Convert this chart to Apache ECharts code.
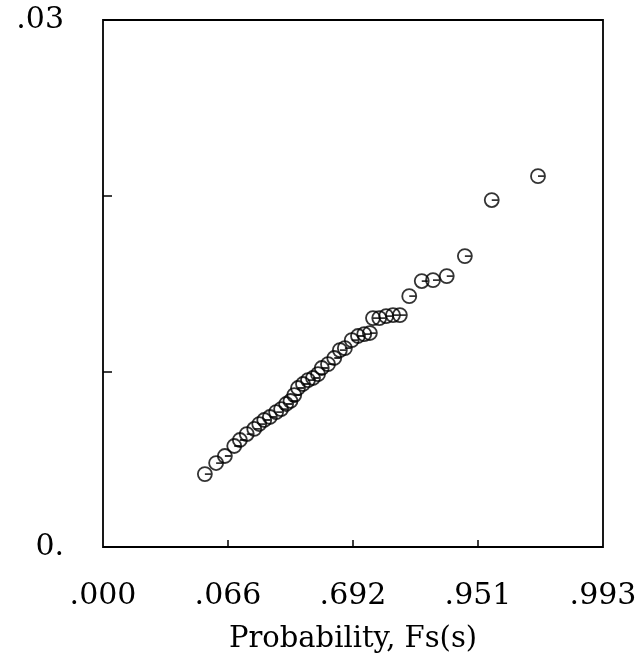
<!DOCTYPE html>
<html>
<head>
<meta charset="utf-8">
<script src="https://cdn.jsdelivr.net/npm/echarts@6/dist/echarts.min.js"></script>
<style>html,body{margin:0;padding:0;background:#fff;}#c{width:639px;height:664px;}</style>
</head>
<body>
<div id="c"></div>
<script>
// Gumbel reduced variate (x) of each plotted point
var reducedVariate = [-1.37,-1.19,-1.05,-0.90,-0.81,-0.70,-0.58,-0.50,-0.42,-0.33,-0.23,-0.15,-0.07,0.00,0.06,0.12,0.20,0.28,0.36,0.44,0.50,0.60,0.70,0.79,0.87,0.98,1.08,1.18,1.27,1.32,1.42,1.53,1.64,1.75,1.90,2.10,2.28,2.50,2.79,3.22,3.96];
// SMRSF value of each point
var smrsf = [0.00415,0.00478,0.00518,0.00575,0.00609,0.00643,0.00672,0.00700,0.00723,0.00740,0.00768,0.00785,0.00814,0.00831,0.00865,0.00905,0.00928,0.00950,0.00962,0.00984,0.01019,0.01041,0.01076,0.01121,0.01132,0.01178,0.01201,0.01212,0.01218,0.01303,0.01303,0.01314,0.01320,0.01320,0.01428,0.01514,0.01519,0.01542,0.01656,0.01975,0.02111];
// x tick positions (reduced variate) and their probability labels
var xTickValues = [-3, -1, 1, 3, 5];
var xTickLabels = ['.000', '.066', '.692', '.951', '.993'];
// y tick values and labels
var yTickValues = [0, 0.01, 0.02, 0.03];
var yTickLabels = ['0.', '', '', '.03'];

var points = reducedVariate.map(function (x, i) { return [x, smrsf[i]]; });

function lookup(vals, labels, v) {
  for (var i = 0; i < vals.length; i++) {
    if (Math.abs(vals[i] - v) < 1e-9) return labels[i];
  }
  return '';
}

var chart = echarts.init(document.getElementById('c'), null, {renderer: 'canvas'});
chart.setOption({
  backgroundColor: '#fff',
  animation: false,
  grid: {
    left: 103, right: 36, top: 20, bottom: 117,
    containLabel: false, outerBoundsMode: 'none',
    show: true, borderColor: '#000', borderWidth: 1.8, backgroundColor: 'transparent'
  },
  xAxis: {
    type: 'value', min: -3, max: 5,
    splitLine: {show: false},
    axisLine: {show: false, onZero: false},
    axisTick: {show: true, inside: true, length: 7, lineStyle: {color: '#000', width: 1.5}, customValues: [-1, 1, 3]},
    axisLabel: {
      customValues: xTickValues,
      margin: 34,
      color: '#000',
      fontFamily: 'DejaVu Serif',
      fontSize: 30,
      formatter: function (v) { return lookup(xTickValues, xTickLabels, v); }
    },
    name: 'Probability, Fs(s)',
    nameLocation: 'middle',
    nameGap: 78,
    nameTextStyle: {color: '#000', fontFamily: 'DejaVu Serif', fontSize: 29}
  },
  yAxis: {
    type: 'value', min: 0, max: 0.03, interval: 0.01,
    splitLine: {show: false},
    axisLine: {show: false, onZero: false},
    axisTick: {show: true, inside: true, length: 9, lineStyle: {color: '#000', width: 1.5}, customValues: [0.01, 0.02]},
    axisLabel: {
      customValues: [0, 0.03],
      margin: 39,
      color: '#000',
      fontFamily: 'DejaVu Serif',
      fontSize: 30,
      formatter: function (v) { return lookup(yTickValues, yTickLabels, v); }
    },
    name: 'SMRSF',
    nameLocation: 'middle',
    nameGap: 58,
    nameRotate: 90,
    nameTextStyle: {color: '#000', fontFamily: 'Liberation Serif', fontSize: 30}
  },
  series: [{
    type: 'scatter',
    data: points,
    symbol: 'path://M0,-7A7,7 0 1,1 0,7A7,7 0 1,1 0,-7M0,0L7,0',
    symbolSize: 14,
    itemStyle: {color: 'rgba(0,0,0,0)', borderColor: '#000', borderWidth: 1.8}
  }]
});
</script>
</body>
</html>
